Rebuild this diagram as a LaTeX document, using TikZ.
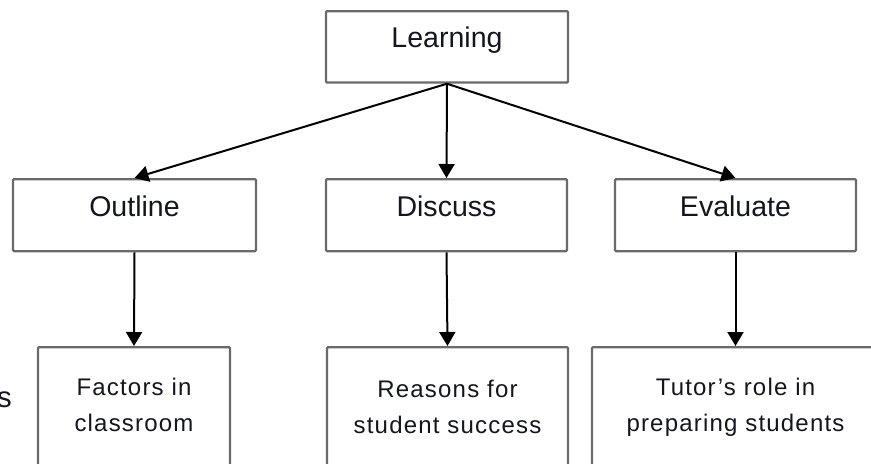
\documentclass[tikz,border=0pt]{standalone}
\usepackage{fontspec}
\setmainfont{Liberation Sans}
\newfontfamily\spacedfont[LetterSpace=5]{Liberation Sans}
\usetikzlibrary{arrows.meta}
\definecolor{boxgray}{HTML}{6A6A6A}
\definecolor{txt}{HTML}{151520}
\begin{document}
\begin{tikzpicture}[x=0.75pt,y=-0.75pt,
  box/.style={draw=boxgray, line width=1.7pt, rounded corners=0.8pt, inner sep=0pt, fill=white, text=txt},
  topbox/.style={box, anchor=north, minimum width=181.5pt, font=\fontsize{21.4pt}{25pt}\selectfont, text height=27.5pt, text depth=26.1pt},
  midbox/.style={box, anchor=north, font=\fontsize{21.4pt}{25pt}\selectfont, text height=28.3pt, text depth=25.7pt},
  lowbox/.style={box, anchor=north, minimum height=120pt},
  btxt/.style={inner sep=0pt, anchor=base, text=txt, font=\spacedfont\fontsize{18pt}{22pt}\selectfont},
  conn/.style={draw=black, line width=1.5pt, -{Triangle[length=10.5pt,width=12pt]}}
]
\useasboundingbox (0,0) rectangle (871,464);
\clip (0,0) rectangle (871,464);

% top
\node[topbox] (L) at (447,10) {Learning};

% middle
\node[midbox, minimum width=182.25pt] (O) at (134.5,178) {Outline};
\node[midbox, minimum width=180.75pt] (D) at (446.5,178) {Discuss};
\node[midbox, minimum width=180.75pt] (E) at (735.5,178) {Evaluate};

% bottom boxes
\node[lowbox, minimum width=144pt] (F) at (134,346) {};
\node[lowbox, minimum width=180.75pt] (R) at (447.5,346) {};
\node[lowbox, minimum width=215.25pt] (T) at (735.5,346) {};

% bottom texts
\node[btxt] (F1) at (134,395) {Factors in};
\node[btxt] (F2) at (134,431) {classroom};
\node[btxt] (R1) at (447.5,397) {Reasons for};
\node[btxt] (R2) at (447.5,433) {student success};
\node[btxt] (T1) at (735.5,395) {Tutor’s role in};
\node[btxt] (T2) at (735.5,431) {preparing students};

% text cut off at the left edge, as in the reference
\node[inner sep=0pt, anchor=base east, text=txt, font=\fontsize{22pt}{26pt}\selectfont] (S) at (12,407) {s};

% connectors
\draw[conn] (L.south) -- (O.north);
\draw[conn] (L.south) -- (D.north);
\draw[conn] (L.south) -- (E.north);
\draw[conn] (O.south) -- (F.north);
\draw[conn] (D.south) -- (R.north);
\draw[conn] (E.south) -- (T.north);
\end{tikzpicture}
\end{document}
